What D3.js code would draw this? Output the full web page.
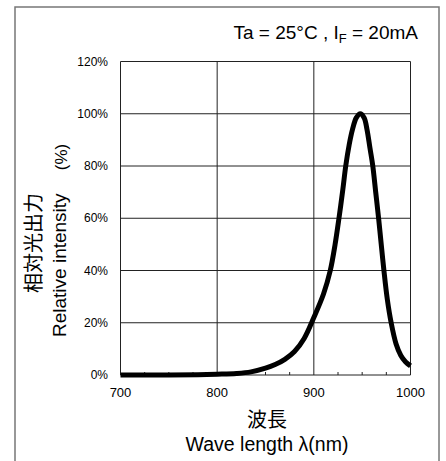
<!DOCTYPE html>
<html>
<head>
<meta charset="utf-8">
<script src="https://cdn.jsdelivr.net/npm/d3@7"></script>
<style>
  html, body { margin: 0; padding: 0; background: #fff; }
  svg { display: block; }
</style>
</head>
<body>
<svg id="chart" width="446" height="461"></svg>
<script>
// Emission spectrum: wavelength (nm) vs relative intensity (%)
const wavelength = [700, 750, 780, 800, 820, 835, 850, 860, 870, 880, 890, 900, 910, 917, 922, 926, 930, 933, 936.5, 940, 944, 948, 952, 955, 958, 961, 964, 967, 970, 972.5, 976, 980, 985, 990, 995, 1000];
const intensity  = [0,   0,   0.1, 0.3, 0.6, 1.2, 2.6, 4.0, 6.0, 9.0, 14,  22,  31,  40,  50,  60,  71,  80,  88,   94,  98.5, 100, 98.5, 94, 87,  80,  70,  60,  49,  40,    29,  20,  12,  7.5, 5,   3.5];

const xTicks = [700, 800, 900, 1000];
const xMinorTicks = [725, 750, 775, 825, 850, 875, 925, 950, 975];
const yTicks = [0, 20, 40, 60, 80, 100, 120];

const svg = d3.select("#chart");

const x = d3.scaleLinear().domain([700, 1000]).range([120.5, 410.5]);
const y = d3.scaleLinear().domain([0, 120]).range([375, 61.5]);

// outer frame
svg.append("rect")
  .attr("x", 15).attr("y", 7)
  .attr("width", 424).attr("height", 470)
  .attr("fill", "none").attr("stroke", "#777").attr("stroke-width", 1.5);

// grid
const grid = svg.append("g").attr("stroke", "#222").attr("stroke-width", 1);
grid.selectAll("line.h").data(yTicks).join("line")
  .attr("x1", x(700)).attr("x2", x(1000))
  .attr("y1", d => y(d)).attr("y2", d => y(d));
grid.selectAll("line.v").data(xTicks).join("line")
  .attr("y1", y(0)).attr("y2", y(120))
  .attr("x1", d => x(d)).attr("x2", d => x(d));

// minor ticks along the wavelength axis
svg.append("g").selectAll("line").data(xMinorTicks).join("line")
  .attr("x1", d => x(d)).attr("x2", d => x(d))
  .attr("y1", y(0)).attr("y2", y(0) - 3)
  .attr("stroke", "#222").attr("stroke-width", 1);

// y tick labels
svg.append("g").selectAll("text").data(yTicks).join("text")
  .attr("x", 108).attr("y", d => y(d))
  .attr("dy", "0.35em")
  .attr("text-anchor", "end")
  .attr("font-family", "Liberation Sans, Arial, sans-serif")
  .attr("font-size", 12)
  .text(d => d + "%");

// x tick labels
svg.append("g").selectAll("text").data(xTicks).join("text")
  .attr("x", d => x(d)).attr("y", 397)
  .attr("text-anchor", "middle")
  .attr("font-family", "Liberation Sans, Arial, sans-serif")
  .attr("font-size", 13)
  .text(d => d);

// spectrum curve
const pts = wavelength.map((w, i) => [w, intensity[i]]);
const line = d3.line()
  .x(d => x(d[0])).y(d => y(d[1]))
  .curve(d3.curveCatmullRom.alpha(0.5));
svg.append("path")
  .attr("d", line(pts))
  .attr("fill", "none")
  .attr("stroke", "#000")
  .attr("stroke-width", 5)
  .attr("stroke-linejoin", "round")
  .attr("stroke-linecap", "butt");

// condition note
const note = svg.append("text")
  .attr("x", 418).attr("y", 39)
  .attr("text-anchor", "end")
  .attr("font-family", "Liberation Sans, Arial, sans-serif")
  .attr("font-size", 19);
note.append("tspan").text("Ta = 25°C , I");
note.append("tspan").attr("font-size", 13).attr("dy", 4).text("F");
note.append("tspan").attr("dy", -4).text(" = 20mA");

// x axis titles
svg.append("text")
  .attr("x", 267).attr("y", 420)
  .attr("dy", "0.35em")
  .attr("text-anchor", "middle")
  .attr("font-family", "Noto Sans CJK JP, sans-serif")
  .attr("font-size", 20)
  .text("波長");
svg.append("text")
  .attr("x", 267).attr("y", 451)
  .attr("text-anchor", "middle")
  .attr("font-family", "Liberation Sans, Arial, sans-serif")
  .attr("font-size", 19.5)
  .text("Wave length λ(nm)");

// y axis titles
svg.append("text")
  .attr("transform", "translate(34,243) rotate(-90)")
  .attr("dy", "0.35em")
  .attr("text-anchor", "middle")
  .attr("font-family", "Noto Sans CJK JP, sans-serif")
  .attr("font-size", 20)
  .text("相対光出力");
svg.append("text")
  .attr("transform", "translate(66,337) rotate(-90)")
  .attr("text-anchor", "start")
  .attr("font-family", "Liberation Sans, Arial, sans-serif")
  .attr("font-size", 19)
  .text("Relative intensity");
svg.append("text")
  .attr("transform", "translate(61,157) rotate(-90)")
  .attr("dy", "0.35em")
  .attr("text-anchor", "middle")
  .attr("font-family", "Liberation Sans, Arial, sans-serif")
  .attr("font-size", 17)
  .text("(%)");
</script>
</body>
</html>
